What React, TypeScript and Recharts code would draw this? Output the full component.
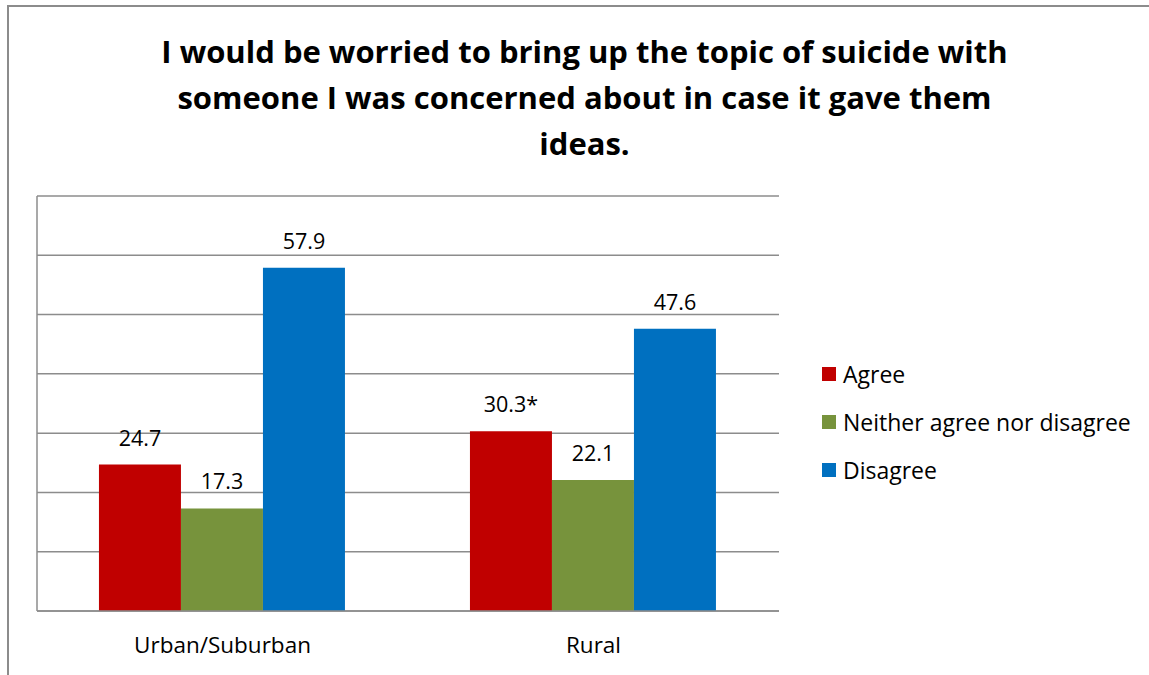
import { BarChart, Bar, XAxis, YAxis, CartesianGrid, LabelList } from "recharts";

// Survey responses by area, percent
const groups = ["Urban/Suburban", "Rural"];
const agree = [24.7, 30.3];
const neither = [17.3, 22.1];
const disagree = [57.9, 47.6];
const agreeLabels = ["24.7", "30.3*"];
const neitherLabels = ["17.3", "22.1"];
const disagreeLabels = ["57.9", "47.6"];
const yTicks = [0, 10, 20, 30, 40, 50, 60, 70];
const titleLines = [
  "I would be worried to bring up the topic of suicide with",
  "someone I was concerned about in case it gave them",
  "ideas.",
];

const series = [
  { key: "agree", name: "Agree", fill: "#C00000", labels: agreeLabels },
  { key: "neither", name: "Neither agree nor disagree", fill: "#77933C", labels: neitherLabels },
  { key: "disagree", name: "Disagree", fill: "#0070C0", labels: disagreeLabels },
];

const data = groups.map((g, i) => ({
  group: g,
  idx: i,
  agree: agree[i],
  neither: neither[i],
  disagree: disagree[i],
}));

const FONT = "'Open Sans', 'Noto Sans', sans-serif";
const GRID = "#8c8c8c";

function LegendBox() {
  return (
    <div style={{ position: "absolute", left: 822, top: 350, fontFamily: FONT, fontSize: 23, color: "#000" }}>
      {series.map((s) => (
        <div key={s.key} style={{ display: "flex", alignItems: "center", height: 48 }}>
          <span style={{ width: 14, height: 14, background: s.fill, marginRight: 7, display: "inline-block" }} />
          <span>{s.name}</span>
        </div>
      ))}
    </div>
  );
}

export default function App() {
  return (
    <div style={{ position: "absolute", left: 0, top: 0, width: 1149, height: 675, overflow: "hidden", background: "#fff" }}>
      <div
        style={{
          position: "absolute",
          left: 7,
          top: 5,
          width: 1200,
          height: 700,
          borderLeft: `2px solid ${GRID}`,
          borderTop: `2px solid ${GRID}`,
        }}
      />
      <div
        style={{
          position: "absolute",
          left: 0,
          top: 28,
          width: 1169,
          textAlign: "center",
          fontFamily: FONT,
          fontWeight: 700,
          fontSize: 31,
          lineHeight: "46px",
          color: "#000",
        }}
      >
        {titleLines.map((l) => (
          <div key={l}>{l}</div>
        ))}
      </div>
      <div style={{ position: "absolute", left: 0, top: 0 }}>
        <BarChart
          width={1149}
          height={675}
          data={data}
          margin={{ top: 196, right: 370, bottom: 0, left: 36 }}
          barGap={0}
          barCategoryGap="16.7%"
        >
          <CartesianGrid vertical={false} stroke={GRID} strokeWidth={1.5} />
          <YAxis
            width={1}
            domain={[0, 70]}
            ticks={yTicks}
            interval={0}
            tick={() => <g />}
            tickLine={false}
            axisLine={{ stroke: GRID, strokeWidth: 1.5 }}
          />
          <XAxis
            dataKey="group"
            height={64}
            tickLine={false}
            tickMargin={20}
            axisLine={{ stroke: GRID, strokeWidth: 1.5 }}
            tick={{ fontFamily: FONT, fontSize: 22.5, fill: "#000" }}
          />
          {series.map((s) => (
            <Bar key={s.key} dataKey={s.key} name={s.name} fill={s.fill} isAnimationActive={false}>
              <LabelList
                dataKey="idx"
                position="top"
                offset={19}
                formatter={(i: number) => s.labels[i]}
                style={{ fontFamily: FONT, fontSize: 21.5, fill: "#000" }}
              />
            </Bar>
          ))}
        </BarChart>
      </div>
      <LegendBox />
    </div>
  );
}
